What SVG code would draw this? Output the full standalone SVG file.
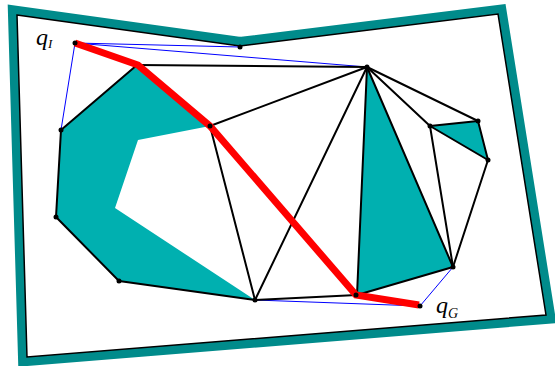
<svg xmlns="http://www.w3.org/2000/svg" width="555" height="366" viewBox="0 0 555 366">
<style>
.edge{stroke:#000;stroke-width:2;fill:none;stroke-linecap:round}
.blue{stroke:#0000ff;stroke-width:1;fill:none}
.obs{fill:#00b0b0;stroke:none}
.dot{fill:#000}
.lbl{font-family:"Liberation Serif",serif;font-style:italic;fill:#000}
</style>
<g id="boundary">
<polygon points="17,15 240,46 498,14 546,315 27,357" fill="none" stroke="#008b8b" stroke-width="18" stroke-linejoin="miter"/>
<polygon points="17,15 240,46 498,14 546,315 27,357" fill="#fff" stroke="#000" stroke-width="1.5"/>
</g>
<g id="obstacles">
<polygon id="obs1" class="obs" points="137,65 61,130 56,217 119,281 255,300 115,208 138,140 210,126"/>
<polygon id="obs2" class="obs" points="367,67 357,295 453,267"/>
<polygon id="obs3" class="obs" points="430,126 478,121 488,160"/>
</g>
<g id="connectors">
<line class="blue" x1="75" y1="43" x2="240" y2="47"/>
<line class="blue" x1="75" y1="43" x2="367" y2="67"/>
<line class="blue" x1="75" y1="43" x2="61" y2="130"/>
<line class="blue" x1="255" y1="300" x2="420" y2="306"/>
<line class="blue" x1="420" y1="306" x2="453" y2="267"/>
<line class="edge" x1="137" y1="65" x2="367" y2="67"/>
<line class="edge" x1="137" y1="65" x2="61" y2="130"/>
<line class="edge" x1="61" y1="130" x2="56" y2="217"/>
<line class="edge" x1="56" y1="217" x2="119" y2="281"/>
<line class="edge" x1="119" y1="281" x2="255" y2="300"/>
<line class="edge" x1="210" y1="126" x2="367" y2="67"/>
<line class="edge" x1="210" y1="126" x2="255" y2="300"/>
<line class="edge" x1="255" y1="300" x2="367" y2="67"/>
<line class="edge" x1="255" y1="300" x2="357" y2="295"/>
<line class="edge" x1="357" y1="295" x2="367" y2="67"/>
<line class="edge" x1="367" y1="67" x2="453" y2="267"/>
<line class="edge" x1="357" y1="295" x2="453" y2="267"/>
<line class="edge" x1="367" y1="67" x2="430" y2="126"/>
<line class="edge" x1="367" y1="67" x2="478" y2="121"/>
<line class="edge" x1="430" y1="126" x2="478" y2="121"/>
<line class="edge" x1="478" y1="121" x2="488" y2="160"/>
<line class="edge" x1="430" y1="126" x2="488" y2="160"/>
<line class="edge" x1="430" y1="126" x2="453" y2="267"/>
<line class="edge" x1="488" y1="160" x2="453" y2="267"/>
<polyline id="path" points="75,43 138,65 210,126 356,295 419,305" fill="none" stroke="#ff0000" stroke-width="7" stroke-linejoin="miter"/>
</g>
<g id="nodes">
<circle id="qI" class="dot" cx="75" cy="43" r="2.5"/>
<circle id="n1" class="dot" cx="240" cy="47" r="2.5"/>
<circle id="n2" class="dot" cx="61" cy="130" r="2.5"/>
<circle id="n3" class="dot" cx="210" cy="126" r="2.5"/>
<circle id="n4" class="dot" cx="367" cy="67" r="2.5"/>
<circle id="n5" class="dot" cx="430" cy="126" r="2.5"/>
<circle id="n6" class="dot" cx="478" cy="121" r="2.5"/>
<circle id="n7" class="dot" cx="488" cy="160" r="2.5"/>
<circle id="n8" class="dot" cx="56" cy="217" r="2.5"/>
<circle id="n9" class="dot" cx="119" cy="281" r="2.5"/>
<circle id="n10" class="dot" cx="255" cy="300" r="2.5"/>
<circle id="n11" class="dot" cx="356" cy="295" r="2.5"/>
<circle id="n12" class="dot" cx="453" cy="267" r="2.5"/>
<circle id="qG" class="dot" cx="420" cy="306" r="2.5"/>
</g>
<g id="labels">
<text class="lbl" x="36" y="45" font-size="24">q<tspan font-size="13" dy="2.5">I</tspan></text>
<text class="lbl" x="436" y="312.5" font-size="24">q<tspan font-size="14" dy="5">G</tspan></text>
</g>
</svg>
